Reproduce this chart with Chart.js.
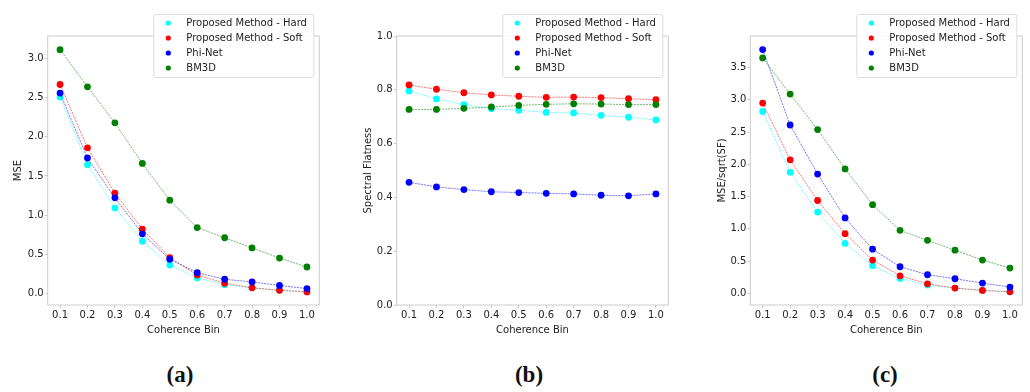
<!DOCTYPE html>
<html>
<head>
<meta charset="utf-8">
<script src="https://cdn.jsdelivr.net/npm/chart.js@4.4.1/dist/chart.umd.min.js"></script>
<style>
  body { margin: 0; background: #fff; width: 1030px; height: 392px; overflow: hidden; position: relative; }
  canvas { position: absolute; top: 0; }
  .sub { position: absolute; top: 362px; width: 60px; margin-left: -30px; text-align: center;
         font-family: "Liberation Serif", serif; font-weight: bold; font-size: 23px; color: #111; }
</style>
</head>
<body>
<canvas id="chartA" width="330" height="340" style="left:0px"></canvas>
<canvas id="chartB" width="340" height="340" style="left:340px"></canvas>
<canvas id="chartC" width="340" height="340" style="left:690px"></canvas>
<div class="sub" style="left:180px">(a)</div>
<div class="sub" style="left:529px">(b)</div>
<div class="sub" style="left:885px">(c)</div>
<script>
// coherence bins on the x axis
const bins = [0.1, 0.2, 0.3, 0.4, 0.5, 0.6, 0.7, 0.8, 0.9, 1.0];
const seriesNames = ["Proposed Method - Hard", "Proposed Method - Soft", "Phi-Net", "BM3D"];
const seriesColors = ["#00ffff", "#ff0000", "#0000ff", "#008000"];

// (a) MSE
const mseHard = [2.51, 1.645, 1.09, 0.665, 0.36, 0.196, 0.11, 0.068, 0.04, 0.02];
const mseSoft = [2.67, 1.86, 1.28, 0.82, 0.456, 0.234, 0.128, 0.07, 0.038, 0.017];
const msePhiNet = [2.56, 1.73, 1.22, 0.76, 0.435, 0.263, 0.179, 0.145, 0.1, 0.06];
const mseBm3d = [3.115, 2.64, 2.18, 1.66, 1.19, 0.84, 0.71, 0.58, 0.45, 0.336];

// (b) spectral flatness
const sfHard = [0.796, 0.766, 0.745, 0.73, 0.724, 0.716, 0.714, 0.705, 0.698, 0.688];
const sfSoft = [0.818, 0.802, 0.789, 0.781, 0.776, 0.772, 0.773, 0.771, 0.767, 0.763];
const sfPhiNet = [0.456, 0.439, 0.429, 0.421, 0.418, 0.415, 0.413, 0.408, 0.406, 0.413];
const sfBm3d = [0.727, 0.727, 0.731, 0.736, 0.742, 0.746, 0.748, 0.747, 0.745, 0.745];

// (c) MSE/sqrt(SF)
const normHard = [2.82, 1.877, 1.26, 0.775, 0.43, 0.232, 0.129, 0.082, 0.046, 0.025];
const normSoft = [2.95, 2.07, 1.44, 0.925, 0.517, 0.273, 0.149, 0.082, 0.046, 0.025];
const normPhiNet = [3.78, 2.61, 1.85, 1.17, 0.685, 0.413, 0.289, 0.227, 0.16, 0.098];
const normBm3d = [3.65, 3.09, 2.54, 1.93, 1.375, 0.977, 0.822, 0.67, 0.517, 0.392];

// tick labels
const xTicks = bins;
const yTicksA = [0.0, 0.5, 1.0, 1.5, 2.0, 2.5, 3.0];
const yTicksB = [0.0, 0.2, 0.4, 0.6, 0.8, 1.0];
const yTicksC = [0.0, 0.5, 1.0, 1.5, 2.0, 2.5, 3.0, 3.5];

Chart.defaults.font.family = "'DejaVu Sans', sans-serif";
Chart.defaults.font.size = 10;
Chart.defaults.color = "#222";

const alpha = (hex, a) => {
  const n = parseInt(hex.slice(1), 16);
  return `rgba(${(n >> 16) & 255},${(n >> 8) & 255},${n & 255},${a})`;
};

// light grey frame round the plot area
const framePlugin = {
  id: "frame",
  beforeDatasetsDraw(chart) {
    const { ctx, chartArea: a } = chart;
    ctx.save();
    ctx.strokeStyle = "#cccccc";
    ctx.lineWidth = 1;
    ctx.strokeRect(a.left, a.top, a.right - a.left, a.bottom - a.top);
    ctx.restore();
  },
};

// legend box in the upper right, overlapping the top of the frame
const legendPlugin = {
  id: "boxLegend",
  afterDraw(chart) {
    const { ctx, chartArea: a } = chart;
    const w = 160, h = 63;
    const x = a.right - 6 - w, y = 14;
    ctx.save();
    ctx.fillStyle = "rgba(255,255,255,0.9)";
    ctx.strokeStyle = "#dddddd";
    ctx.lineWidth = 1;
    ctx.beginPath();
    ctx.roundRect(x + 0.5, y + 0.5, w, h, 2);
    ctx.fill();
    ctx.stroke();
    ctx.font = "10px 'DejaVu Sans', sans-serif";
    ctx.textBaseline = "middle";
    chart.data.datasets.forEach((ds, i) => {
      const ry = y + 9 + 15 * i;
      ctx.fillStyle = ds.pointBackgroundColor;
      ctx.beginPath();
      ctx.arc(x + 15, ry, 2.6, 0, Math.PI * 2);
      ctx.fill();
      ctx.fillStyle = "#222";
      ctx.fillText(ds.label, x + 33, ry);
    });
    ctx.restore();
  },
};

function makeChart(id, series, yTitle, yMin, yMax, yTicks, geo) {
  return new Chart(document.getElementById(id), {
    type: "line",
    plugins: [framePlugin, legendPlugin],
    data: {
      datasets: series.map((vals, i) => ({
        label: seriesNames[i],
        data: bins.map((b, j) => ({ x: b, y: vals[j] })),
        borderColor: alpha(seriesColors[i], 0.55),
        borderWidth: 1,
        borderDash: [2, 1],
        pointBackgroundColor: seriesColors[i],
        pointBorderWidth: 0,
        pointRadius: 3.4,
        order: 3 - i,
      })),
    },
    options: {
      responsive: false,
      devicePixelRatio: 1,
      animation: false,
      layout: { padding: { left: geo.padLeft, right: geo.padRight, top: 36, bottom: 4 } },
      plugins: { legend: { display: false }, tooltip: { enabled: false } },
      scales: {
        x: {
          type: "linear",
          min: 0.055,
          max: 1.045,
          afterBuildTicks: (s) => { s.ticks = xTicks.map((v) => ({ value: v })); },
          afterFit: (s) => { s.height = 31; },
          ticks: { callback: (v) => v.toFixed(1), padding: 1, maxRotation: 0, autoSkip: false },
          grid: { drawOnChartArea: false, tickLength: 3, tickColor: "#cccccc" },
          border: { display: false },
          title: { display: true, text: "Coherence Bin", padding: 0 },
        },
        y: {
          min: yMin,
          max: yMax,
          afterBuildTicks: (s) => { s.ticks = yTicks.map((v) => ({ value: v })); },
          afterFit: (s) => { s.width = geo.yWidth; },
          ticks: { callback: (v) => v.toFixed(1), padding: 1 },
          grid: { drawOnChartArea: false, tickLength: 3, tickColor: "#cccccc" },
          border: { display: false },
          title: { display: true, text: yTitle, padding: 0 },
        },
      },
    },
  });
}

makeChart("chartA", [mseHard, mseSoft, msePhiNet, mseBm3d], "MSE", -0.15, 3.29, yTicksA,
  { padLeft: 12, yWidth: 35.7, padRight: 10.7 });
makeChart("chartB", [sfHard, sfSoft, sfPhiNet, sfBm3d], "Spectral Flatness", 0, 1, yTicksB,
  { padLeft: 22, yWidth: 34.7, padRight: 11.7 });
makeChart("chartC", [normHard, normSoft, normPhiNet, normBm3d], "MSE/sqrt(SF)", -0.18, 3.99, yTicksC,
  { padLeft: 26, yWidth: 34.3, padRight: 7.7 });
</script>
</body>
</html>
